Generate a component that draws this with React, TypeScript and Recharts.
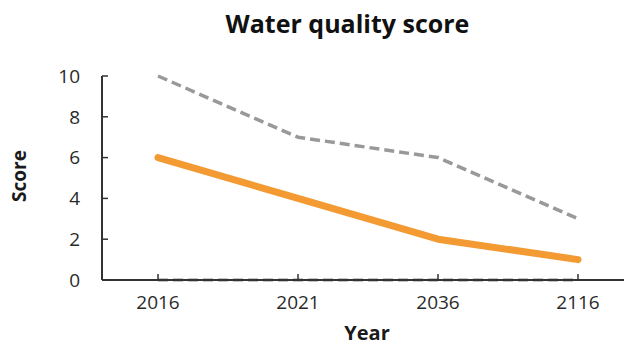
import React from "react";
import { LineChart, Line, XAxis, YAxis, Label } from "recharts";

const years = ["2016", "2021", "2036", "2116"];
const upperScores = [10, 7, 6, 3];
const expectedScores = [6, 4, 2, 1];
const lowerScores = [0, 0, 0, 0];
const yTicks = [0, 2, 4, 6, 8, 10];

const FONT = "'Open Sans', 'Noto Sans', sans-serif";

// table for recharts, built from the arrays above
const data = years.map((year, i) => ({
  year,
  upper: upperScores[i],
  expected: expectedScores[i],
  lower: lowerScores[i],
}));

const ScoreLabel = (props: any) => {
  const { viewBox } = props;
  const cy = viewBox.y + viewBox.height / 2 - 2;
  return (
    <text
      x={19}
      y={cy}
      transform={`rotate(-90 19 ${cy})`}
      textAnchor="middle"
      dominantBaseline="central"
      fontFamily={FONT}
      fontWeight={700}
      fontSize={19}
      fill="#1a1a1a"
    >
      Score
    </text>
  );
};

const YearLabel = (props: any) => {
  const { viewBox } = props;
  return (
    <text
      x={viewBox.x + viewBox.width / 2 + 4}
      y={340}
      textAnchor="middle"
      fontFamily={FONT}
      fontWeight={700}
      fontSize={20}
      fill="#1a1a1a"
    >
      Year
    </text>
  );
};

export default function App() {
  return (
    <div style={{ position: "absolute", left: 0, top: 0, width: 625, height: 347, background: "#fff" }}>
      <div
        style={{
          position: "absolute",
          left: 0,
          top: 6,
          width: 695,
          textAlign: "center",
          fontFamily: FONT,
          fontWeight: 700,
          fontSize: 25,
          color: "#111",
        }}
      >
        Water quality score
      </div>
      <LineChart
        width={625}
        height={347}
        data={data}
        margin={{ top: 76, right: 1, bottom: 0, left: 0 }}
      >
        <XAxis
          dataKey="year"
          height={67}
          padding={{ left: 56, right: 46 }}
          stroke="#333"
          strokeWidth={2}
          tickSize={-6}
          tickMargin={22}
          tick={{ fill: "#2a2a2a", fontSize: 19, fontFamily: FONT }}
          tickLine={{ stroke: "#333", strokeWidth: 1.5 }}
        >
          <Label content={<YearLabel />} />
        </XAxis>
        <YAxis
          width={102}
          domain={[0, 10]}
          ticks={yTicks}
          stroke="#333"
          strokeWidth={2}
          tickSize={-6}
          tickMargin={28}
          tick={{ fill: "#2a2a2a", fontSize: 19, fontFamily: FONT }}
          tickLine={{ stroke: "#333", strokeWidth: 1.5 }}
        >
          <Label content={<ScoreLabel />} />
        </YAxis>
        <Line
          type="linear"
          dataKey="lower"
          stroke="#8a8a8a"
          strokeWidth={3}
          strokeDasharray="10 5"
          dot={false}
          isAnimationActive={false}
        />
        <Line
          type="linear"
          dataKey="upper"
          stroke="#999999"
          strokeWidth={3.5}
          strokeDasharray="10 5"
          strokeLinejoin="round"
          dot={false}
          isAnimationActive={false}
        />
        <Line
          type="linear"
          dataKey="expected"
          stroke="#f39a33"
          strokeWidth={7}
          strokeLinecap="round"
          strokeLinejoin="round"
          dot={false}
          isAnimationActive={false}
        />
      </LineChart>
    </div>
  );
}
